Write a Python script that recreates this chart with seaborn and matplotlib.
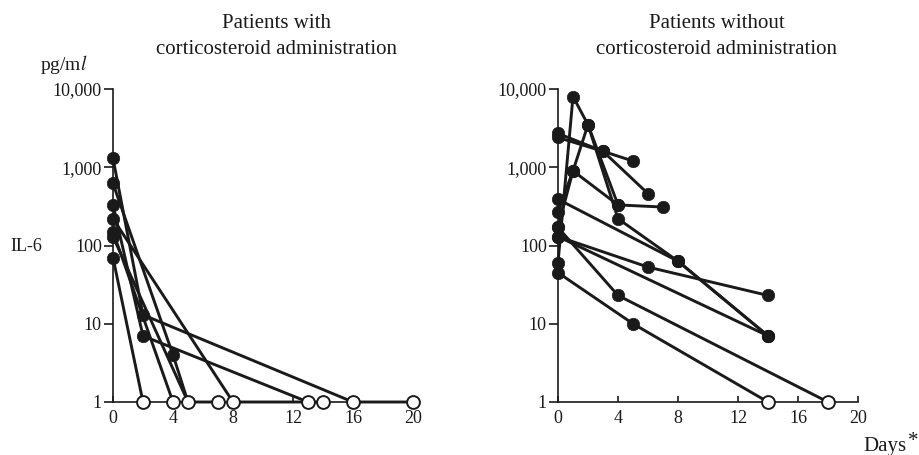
import numpy as np
import pandas as pd
import matplotlib
matplotlib.use('Agg')
import matplotlib.pyplot as plt
import seaborn as sns

# IL-6 (pg/ml) per patient, value 1 = below detection limit (open circle)
with_days = [[0, 2, 16, 20], [0, 4, 5], [0, 2, 13, 14], [0, 8, 13],
             [0, 4], [0, 2], [0, 5, 7]]
with_vals = [[1300, 13, 1, 1], [620, 4, 1], [330, 7, 1, 1], [220, 1, 1],
             [150, 1], [70, 1], [130, 1, 1]]

without_days = [[0, 1, 2, 4, 8, 14], [0, 3, 5], [0, 3, 6], [0, 1, 2, 4, 7],
                [0, 8, 14], [0, 6, 14], [0, 4, 18], [0, 5, 14], [0, 14],
                [0, 1, 4]]
without_vals = [[60, 8000, 3500, 220, 63, 7], [2700, 1600, 1200],
                [2400, 1600, 460], [170, 900, 3500, 330, 310], [390, 63, 7],
                [130, 53, 23], [170, 23, 1], [45, 10, 1], [130, 7],
                [270, 900, 330]]

y_ticks = [1, 10, 100, 1000, 10000]
y_labels = ['1', '10', '100', '1,000', '10,000']
x_ticks = [0, 4, 8, 12, 16, 20]

titles = ['Patients with\ncorticosteroid administration',
          'Patients without\ncorticosteroid administration']

INK = '#1a1a1a'

sns.set_style('ticks')
plt.rcParams['font.family'] = ['Liberation Serif', 'DejaVu Serif']
plt.rcParams['mathtext.fontset'] = 'stix'


def to_frame(days, vals):
    rows = []
    for i, (d, v) in enumerate(zip(days, vals)):
        for dd, vv in zip(d, v):
            rows.append({'patient': i, 'day': dd, 'il6': vv})
    return pd.DataFrame(rows)


def draw_panel(ax, days, vals):
    df = to_frame(days, vals)
    sns.lineplot(data=df, x='day', y='il6', units='patient', estimator=None,
                 sort=False, color=INK, lw=2.1, ax=ax, legend=False)
    for ln in ax.lines:
        ln.set_clip_on(False)
        ln.set_solid_capstyle('round')
    filled = df[df['il6'] > 1]
    opened = df[df['il6'] <= 1].drop_duplicates(['day', 'il6'])
    sns.scatterplot(data=filled, x='day', y='il6', color=INK, s=80,
                    edgecolor=INK, linewidth=0.5, ax=ax, clip_on=False,
                    zorder=3, legend=False)
    sns.scatterplot(data=opened, x='day', y='il6', color='white', s=85,
                    edgecolor=INK, linewidth=1.4, ax=ax, clip_on=False,
                    zorder=4, legend=False)
    ax.set_yscale('log')
    ax.set_ylim(1, 10000)
    ax.set_xlim(0, 20)
    ax.set_yticks(y_ticks)
    ax.set_yticklabels(y_labels)
    ax.minorticks_off()
    ax.set_xticks(x_ticks)
    ax.set_xlabel('')
    ax.set_ylabel('')
    sns.despine(ax=ax)
    for s in ['left', 'bottom']:
        ax.spines[s].set_linewidth(1.2)
        ax.spines[s].set_color(INK)
    ax.tick_params(axis='y', direction='out', length=6.5, width=1.2,
                   pad=1.5, labelsize=13, colors=INK)
    ax.tick_params(axis='x', direction='in', length=4, width=1.2,
                   pad=5.5, labelsize=13, colors=INK)


fig = plt.figure(figsize=(9.19, 4.55), dpi=100)
ax1 = fig.add_axes([113 / 919, 1 - 402 / 455, 300 / 919, 313 / 455])
ax2 = fig.add_axes([558 / 919, 1 - 402 / 455, 300 / 919, 313 / 455])

draw_panel(ax1, with_days, with_vals)
draw_panel(ax2, without_days, without_vals)

fig.text(277 / 919, 1 - 37 / 455, titles[0], ha='center', va='center',
         fontsize=15, linespacing=1.5, color=INK)
fig.text(717 / 919, 1 - 37 / 455, titles[1], ha='center', va='center',
         fontsize=15, linespacing=1.5, color=INK)
fig.text(64 / 919, 1 - 64 / 455, 'pg/m$\\it{l}$', ha='center', va='center',
         fontsize=14, color=INK)
fig.text(26 / 919, 1 - 247 / 455, 'IL-6', ha='center', va='center',
         fontsize=13, color=INK)
fig.text(885 / 919, 1 - 447 / 455, 'Days', ha='center', va='center',
         fontsize=15, color=INK)
fig.text(913 / 919, 1 - 441 / 455, '*', ha='center', va='center',
         fontsize=15, color=INK)

fig.savefig('out.png', dpi=100)
